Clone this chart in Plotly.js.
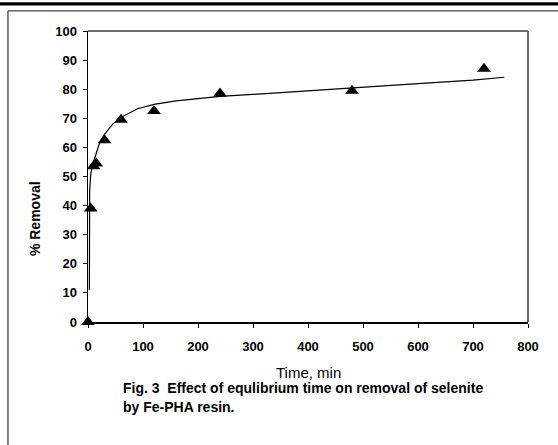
<!DOCTYPE html>
<html>
<head>
<meta charset="utf-8">
<script src="https://cdn.plot.ly/plotly-3.0.1.min.js"></script>
<style>html,body{margin:0;padding:0;background:#fff;}#chart{width:558px;height:445px;}</style>
</head>
<body>
<div id="chart"></div>
<script>
// Measured data points
var timeMin = [0, 5, 10, 15, 30, 60, 120, 240, 480, 720];
var removal = [0, 39, 53.5, 54.5, 62.5, 69.5, 72.5, 78.5, 79.5, 87];

// Fitted trend curve
var curveX = [2.5, 2.6, 3, 5, 10, 20, 30, 45, 60, 90, 120, 160, 200, 240, 300, 400, 500, 600, 700, 757];
var curveY = [11, 30, 45, 51, 55, 61, 64.5, 68, 70.3, 73.3, 74.8, 76, 76.8, 77.5, 78.2, 79.5, 80.7, 81.9, 83.1, 84.1];

var xTicks = [0, 100, 200, 300, 400, 500, 600, 700, 800];
var yTicks = [0, 10, 20, 30, 40, 50, 60, 70, 80, 90, 100];

var FONT = 'Liberation Sans, Arial, sans-serif';

var traces = [
  {x: curveX, y: curveY, mode: 'lines', type: 'scatter',
   line: {color: '#000', width: 1.2}, hoverinfo: 'skip', showlegend: false},
  {x: timeMin, y: removal, mode: 'markers', type: 'scatter', cliponaxis: false,
   marker: {symbol: 'triangle-up', size: 12, color: '#000'}, showlegend: false}
];

var layout = {
  width: 558, height: 445,
  margin: {l: 88, r: 30, t: 31, b: 123, pad: 0},
  paper_bgcolor: '#fff', plot_bgcolor: '#fff',
  showlegend: false,
  xaxis: {
    range: [0, 800], tickvals: xTicks, ticktext: xTicks.map(String),
    ticks: 'outside', ticklen: 4, tickwidth: 1, tickcolor: '#000',
    showline: true, linecolor: '#000', linewidth: 1.5, showgrid: false, zeroline: false,
    tickfont: {family: FONT, size: 13, color: '#000', weight: 'bold'},
    ticklabelstandoff: 8
  },
  yaxis: {
    range: [0, 100], tickvals: yTicks, ticktext: yTicks.map(String),
    ticks: 'outside', ticklen: 4, tickwidth: 1, tickcolor: '#000',
    showline: true, linecolor: '#000', linewidth: 1.5, showgrid: false, zeroline: false,
    tickfont: {family: FONT, size: 13, color: '#000', weight: 'bold'},
    ticklabelstandoff: 3
  },
  shapes: [
    {type: 'line', xref: 'paper', yref: 'paper', x0: 0, x1: 1, y0: 1, y1: 1, line: {color: '#6b6b6b', width: 2}},
    {type: 'line', xref: 'paper', yref: 'paper', x0: 1, x1: 1, y0: 0, y1: 1, line: {color: '#6b6b6b', width: 2}},
    {type: 'line', xref: 'paper', yref: 'paper', x0: -0.1819, x1: 1.08, y0: 1.0689, y1: 1.0689, line: {color: '#444', width: 1.3}},
    {type: 'line', xref: 'paper', yref: 'paper', x0: -0.1819, x1: -0.1819, y0: 1.0689, y1: -0.43, line: {color: '#444', width: 1.3}},
    {type: 'line', xref: 'paper', yref: 'paper', x0: -0.21, x1: 1.08, y0: 1.093, y1: 1.093, line: {color: '#000', width: 3.3}}
  ],
  annotations: [
    {text: '<b>% Removal</b>', xref: 'paper', yref: 'paper', x: -0.1205, y: 0.357,
     xanchor: 'center', yanchor: 'middle', textangle: -90, showarrow: false,
     font: {family: FONT, size: 14, color: '#000'}},
    {text: 'Time, min', xref: 'paper', yref: 'paper', x: 0.5, y: -0.172,
     xanchor: 'center', yanchor: 'middle', showarrow: false,
     font: {family: FONT, size: 15, color: '#000'}},
    {text: '<b>Fig. 3  Effect of equlibrium time on removal of selenite</b>', xref: 'paper', yref: 'paper',
     x: 0.075, y: -0.2283, xanchor: 'left', yanchor: 'middle', showarrow: false,
     font: {family: FONT, size: 14, color: '#000'}},
    {text: '<b>by Fe-PHA resin.</b>', xref: 'paper', yref: 'paper',
     x: 0.075, y: -0.2937, xanchor: 'left', yanchor: 'middle', showarrow: false,
     font: {family: FONT, size: 14, color: '#000'}}
  ]
};

Plotly.newPlot('chart', traces, layout, {staticPlot: true, displayModeBar: false});
</script>
</body>
</html>
